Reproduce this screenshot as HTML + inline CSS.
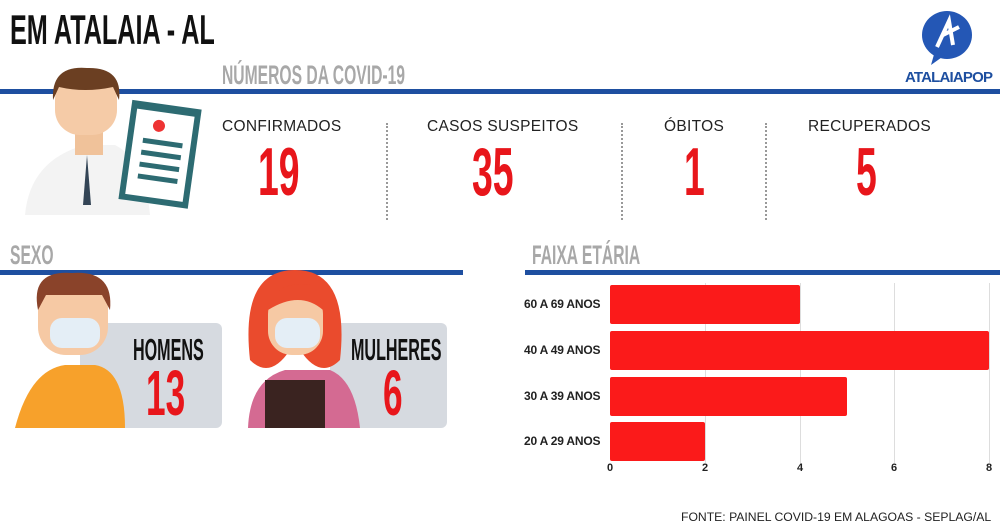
<!DOCTYPE html><html><head><meta charset="utf-8"><style>
body{margin:0;width:1000px;height:529px;background:#fff;position:relative;overflow:hidden;font-family:"Liberation Sans",sans-serif}
.a{position:absolute}
.c{position:absolute;font-weight:bold;line-height:1;white-space:nowrap;transform:scaleX(.58);transform-origin:left top}
.n{color:#e8161b;font-size:68px;transform:scaleX(.55)}
.l{position:absolute;font-size:15.5px;color:#222;white-space:nowrap;letter-spacing:.3px}
.d{position:absolute;top:123px;height:97px;border-left:2px dotted #999}
.bar{position:absolute;left:610px;background:#fb1a1a;border-radius:2px}
.g{position:absolute;top:283px;height:180px;border-left:1px solid #ddd}
.y{position:absolute;left:524px;font-size:12px;font-weight:bold;color:#222;letter-spacing:-.2px}
.t{position:absolute;top:462px;font-size:11px;font-weight:bold;color:#222}
</style></head><body>
<div class="c" style="left:10px;top:9px;font-size:42px;color:#111;transform:scaleX(.6)">EM ATALAIA - AL</div>
<div class="c" style="left:222px;top:62px;font-size:27px;color:#a8a8a8">NÚMEROS DA COVID-19</div>
<div class="a" style="left:0;top:89px;width:1000px;height:5px;background:#1e4fa0"></div>
<svg class="a" style="left:905px;top:5px" width="90" height="80"><ellipse cx="42" cy="30" rx="25" ry="24" fill="#2457b5"/><path d="M30 46 L26 60 L40 50Z" fill="#2457b5"/><path d="M32 42 L44 16 L48 40 M38 30 L54 22" stroke="#fff" stroke-width="4" fill="none"/><rect x="0" y="62" width="88" height="16" fill="#fff"/><text x="0" y="77" font-family="Liberation Sans" font-weight="bold" font-size="15" fill="#1e4fa0" textLength="88">ATALAIAPOP</text></svg>
<svg class="a" style="left:15px;top:65px" width="200" height="160"><path d="M10 150 Q15 95 70 80 L100 80 Q130 95 135 150Z" fill="#f3f3f3"/><rect x="60" y="60" width="28" height="30" fill="#f0c29a"/><rect x="40" y="10" width="62" height="60" rx="25" fill="#f5cba7"/><path d="M38 35 Q36 0 72 3 Q108 2 104 35 L98 22 Q70 28 44 22Z" fill="#6b3f22"/><path d="M72 90 L68 140 L76 140Z" fill="#345"/><g transform="rotate(8 150 90)"><rect x="110" y="40" width="70" height="100" fill="#2d6b72"/><rect x="116" y="48" width="58" height="86" fill="#fff"/><circle cx="140" cy="62" r="6" fill="#e33"/><rect x="126" y="76" width="40" height="5" fill="#2d6b72"/><rect x="126" y="88" width="40" height="5" fill="#2d6b72"/><rect x="126" y="100" width="40" height="5" fill="#2d6b72"/><rect x="126" y="112" width="40" height="5" fill="#2d6b72"/></g></svg>
<div class="l" style="left:222px;top:118px">CONFIRMADOS</div>
<div class="c n" style="left:258px;top:138px">19</div>
<div class="d" style="left:386px"></div>
<div class="l" style="left:427px;top:118px">CASOS SUSPEITOS</div>
<div class="c n" style="left:472px;top:138px">35</div>
<div class="d" style="left:621px"></div>
<div class="l" style="left:664px;top:118px">ÓBITOS</div>
<div class="c n" style="left:684px;top:138px">1</div>
<div class="d" style="left:765px"></div>
<div class="l" style="left:808px;top:118px">RECUPERADOS</div>
<div class="c n" style="left:856px;top:138px">5</div>
<div class="c" style="left:10px;top:242px;font-size:27px;color:#a8a8a8">SEXO</div>
<div class="a" style="left:0;top:270px;width:463px;height:5px;background:#1e4fa0"></div>
<div class="a" style="left:80px;top:323px;width:142px;height:105px;background:#d6dae0;border-radius:6px"></div>
<div class="a" style="left:330px;top:323px;width:117px;height:105px;background:#d6dae0;border-radius:6px"></div>
<svg class="a" style="left:10px;top:270px" width="440" height="160"><path d="M5 158 Q20 100 55 95 L85 95 Q115 100 115 158Z" fill="#f7a12b"/><rect x="28" y="10" width="70" height="75" rx="28" fill="#f6c9a4"/><path d="M28 40 Q20 0 62 3 Q104 0 100 40 L92 25 L36 25Z" fill="#8a432a"/><rect x="40" y="48" width="50" height="30" rx="12" fill="#e4eef6"/>
<path d="M238 158 Q240 110 275 100 L320 100 Q345 110 350 158Z" fill="#d46a92"/><rect x="255" y="110" width="60" height="48" fill="#3a2320"/><path d="M240 90 Q230 0 285 0 Q340 0 330 90 Q310 110 290 80 L280 80 Q260 110 240 90Z" fill="#ea4b2d"/><rect x="258" y="20" width="55" height="65" rx="24" fill="#f6c9a4"/><path d="M258 40 Q265 10 300 15 Q312 25 313 40 Q290 20 258 40Z" fill="#ea4b2d"/><rect x="265" y="48" width="45" height="30" rx="12" fill="#e4eef6"/></svg>
<div class="c" style="left:133px;top:334px;font-size:31px;color:#111;transform:scaleX(.52)">HOMENS</div>
<div class="c n" style="left:146px;top:361px;font-size:64px">13</div>
<div class="c" style="left:351px;top:334px;font-size:31px;color:#111;transform:scaleX(.52)">MULHERES</div>
<div class="c n" style="left:383px;top:361px;font-size:64px">6</div>
<div class="c" style="left:532px;top:242px;font-size:27px;color:#a8a8a8">FAIXA ETÁRIA</div>
<div class="a" style="left:525px;top:270px;width:475px;height:5px;background:#1e4fa0"></div>
<div class="g" style="left:705px"></div><div class="g" style="left:800px"></div><div class="g" style="left:894px"></div><div class="g" style="left:989px"></div>
<div class="bar" style="top:285px;height:39px;width:190px"></div>
<div class="bar" style="top:331px;height:39px;width:379px"></div>
<div class="bar" style="top:377px;height:39px;width:237px"></div>
<div class="bar" style="top:422px;height:39px;width:95px"></div>
<div class="y" style="top:297px">60 A 69 ANOS</div>
<div class="y" style="top:343px">40 A 49 ANOS</div>
<div class="y" style="top:389px">30 A 39 ANOS</div>
<div class="y" style="top:434px">20 A 29 ANOS</div>
<div class="t" style="left:607px">0</div><div class="t" style="left:702px">2</div><div class="t" style="left:797px">4</div><div class="t" style="left:891px">6</div><div class="t" style="left:986px">8</div>
<div class="l" style="left:681px;top:510px;font-size:12.2px;color:#222;letter-spacing:0">FONTE: PAINEL COVID-19 EM ALAGOAS - SEPLAG/AL</div>
</body></html>
